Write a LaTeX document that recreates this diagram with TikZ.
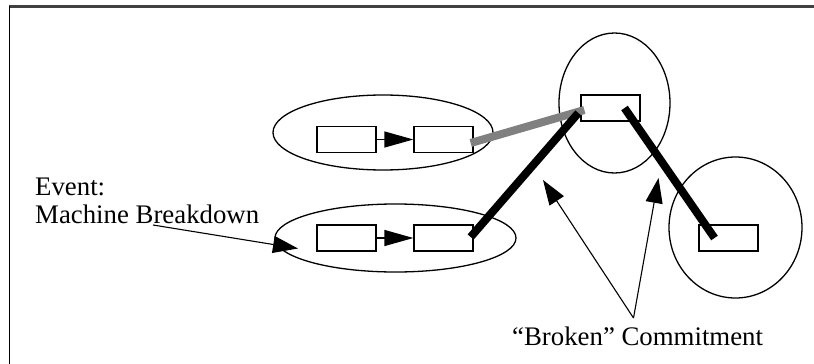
\documentclass[tikz,border=0pt]{standalone}
\usepackage{fontspec}
\setmainfont{Liberation Serif}
\usetikzlibrary{shapes.geometric,arrows.meta,calc}
\begin{document}
\begin{tikzpicture}[x=1pt,y=-1pt,
  boxnode/.style={draw,line width=1.3pt,rectangle,minimum width=59pt,minimum height=26pt,inner sep=0pt},
  oval/.style={draw,line width=1.3pt,ellipse,inner sep=0pt},
  thin arrow/.style={line width=1.3pt,-{Triangle[length=29pt,width=16pt]}},
  ptr/.style={line width=1.1pt,-{Triangle[length=25pt,width=17pt]}},
  heavy/.style={line width=8pt,line cap=butt},
  lbl/.style={font=\fontsize{26.8}{30}\selectfont,inner sep=0pt,anchor=base west}]
\useasboundingbox (0,0) rectangle (814,364);
% partial frame
\draw[line width=2.5pt,black!75] (9,6.5) -- (814,6.5);
\draw[line width=1.6pt] (9.5,6) -- (9.5,364);
% ovals
\node[oval,minimum width=220pt,minimum height=75pt] (e1) at (383,132.5) {};
\node[oval,minimum width=241pt,minimum height=68pt] (e2) at (395.5,238) {};
\node[oval,minimum width=111pt,minimum height=140pt] (e3) at (614.5,103) {};
\node[oval,minimum width=133pt,minimum height=141pt] (e4) at (735.5,227.5) {};
% boxes
\node[boxnode] (b1) at (346.5,139.5) {};
\node[boxnode] (b2) at (443.5,139.5) {};
\node[boxnode] (b3) at (346.5,238) {};
\node[boxnode] (b4) at (443.5,238) {};
\node[boxnode] (tb) at (610.5,108) {};
\node[boxnode] (rb) at (728.5,238) {};
% box arrows
\draw[thin arrow] (b1.east) -- (b2.west);
\draw[thin arrow] (b3.east) -- (b4.west);
% heavy links
\draw[heavy,black!50] ($(b2.east)+(-3,3.5)$) -- ($(tb.west)+(4,2)$);
\draw[heavy] ($(b4.east)+(-3,-1)$) -- ($(tb.west)+(-2,5)$);
\draw[heavy] ($(tb.center)+(14,0)$) -- ($(rb.center)+(-14,0)$);
% labels
\node[lbl] (ev1) at (35,195) {Event:};
\node[lbl] (ev2) at (35,223) {Machine Breakdown};
\node[lbl] (bc) at (512,345) {``Broken'' Commitment};
% pointers
\coordinate (evs) at (153,225);
\coordinate (evt) at (298,248.5);
\draw[ptr] (evs) -- (evt);
\coordinate (apex) at (633.5,318);
\coordinate (t1) at (543,180);
\coordinate (t2) at (658.5,178);
\draw[ptr] (apex) -- (t1);
\draw[ptr] (apex) -- (t2);
\end{tikzpicture}
\end{document}
